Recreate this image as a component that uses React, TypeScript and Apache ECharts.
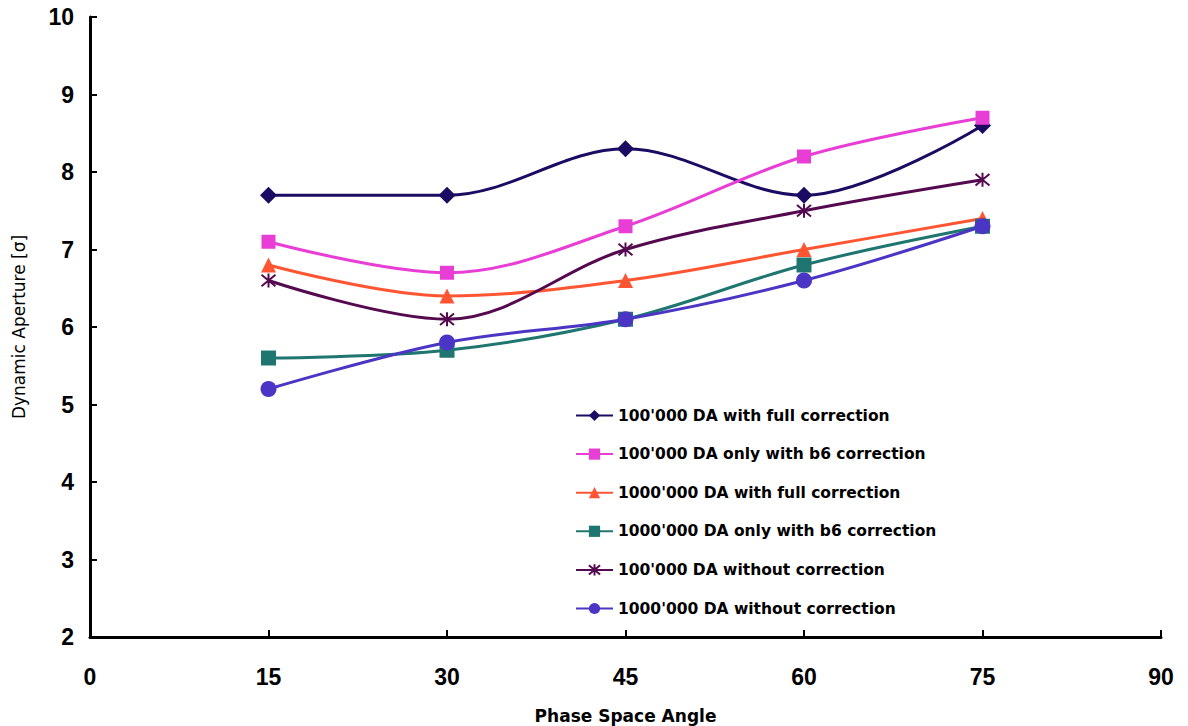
import React, { useEffect, useRef } from "react";
import * as echarts from "echarts";

const angles = [15, 30, 45, 60, 75];
const fullCorr100k = [7.7, 7.7, 8.3, 7.7, 8.6];
const b6Corr100k = [7.1, 6.7, 7.3, 8.2, 8.7];
const fullCorr1M = [6.8, 6.4, 6.6, 7.0, 7.4];
const b6Corr1M = [5.6, 5.7, 6.1, 6.8, 7.3];
const noCorr100k = [6.6, 6.1, 7.0, 7.5, 7.9];
const noCorr1M = [5.2, 5.8, 6.1, 6.6, 7.3];

const seriesDefs = [
  { name: "100'000 DA with full correction", data: fullCorr100k, color: "#1c0b62", symbol: "diamond", size: 17 },
  { name: "100'000 DA only with b6 correction", data: b6Corr100k, color: "#e83ed6", symbol: "rect", size: 14 },
  { name: "1000'000 DA with full correction", data: fullCorr1M, color: "#ff5533", symbol: "triangle", size: 15 },
  { name: "1000'000 DA only with b6 correction", data: b6Corr1M, color: "#1f7670", symbol: "rect", size: 15 },
  { name: "100'000 DA without correction", data: noCorr100k, color: "#550a4f", symbol: "path://M0,0L10,10M10,0L0,10M5,-1L5,11", size: 14, star: true },
  { name: "1000'000 DA without correction", data: noCorr1M, color: "#4a35c5", symbol: "circle", size: 16 },
];

export default function App() {
  const ref = useRef<HTMLDivElement>(null);
  useEffect(() => {
    if (!ref.current) return;
    const chart = echarts.init(ref.current, null, { renderer: "svg" });
    const font = "'Liberation Sans', Arial, sans-serif";
    const wide = "'DejaVu Sans', sans-serif";
    chart.setOption({
      animation: false,
      backgroundColor: "#ffffff",
      textStyle: { fontFamily: font },
      grid: { left: 90, right: 27, top: 17, bottom: 89, outerBoundsMode: "none", containLabel: false },
      xAxis: {
        type: "value",
        min: 0,
        max: 90,
        interval: 15,
        name: "Phase Space Angle",
        nameLocation: "middle",
        nameGap: 70,
        nameTextStyle: { fontSize: 17, fontWeight: "bold", color: "#000", fontFamily: wide },
        axisLine: { show: true, lineStyle: { color: "#000", width: 3 } },
        axisTick: { show: true, inside: true, length: 7, lineStyle: { color: "#000", width: 2 } },
        axisLabel: { fontSize: 23, fontWeight: "bold", color: "#000", margin: 28, fontFamily: font },
        splitLine: { show: false },
      },
      yAxis: {
        type: "value",
        min: 2,
        max: 10,
        interval: 1,
        name: "Dynamic Aperture [σ]",
        nameLocation: "middle",
        nameGap: 63,
        nameRotate: 90,
        nameTextStyle: { fontSize: 17, fontWeight: "normal", color: "#000", fontFamily: wide },
        axisLine: { show: true, lineStyle: { color: "#000", width: 3 } },
        axisTick: { show: true, inside: true, length: 7, lineStyle: { color: "#000", width: 2 } },
        axisLabel: { fontSize: 23, fontWeight: "bold", color: "#000", margin: 16, fontFamily: font },
        splitLine: { show: false },
      },
      legend: {
        orient: "vertical",
        left: 575,
        top: 407.5,
        padding: 0,
        itemWidth: 37,
        itemHeight: 14,
        itemGap: 22.6,
        textStyle: { fontSize: 15.5, fontWeight: "bold", color: "#000", fontFamily: wide },
        data: seriesDefs.map((s) => s.name),
      },
      series: seriesDefs.map((s) => ({
        name: s.name,
        type: "line",
        smooth: 0.35,
        data: angles.map((a, i) => [a, s.data[i]]),
        symbol: s.symbol,
        symbolSize: s.size,
        showAllSymbol: true,
        lineStyle: { color: s.color, width: 3 },
        itemStyle: s.star
          ? { color: s.color, borderColor: s.color, borderWidth: 2 }
          : { color: s.color, borderColor: s.color, borderWidth: 0 },
        emphasis: { disabled: true },
      })),
    });
    return () => chart.dispose();
  }, []);
  return <div ref={ref} style={{ width: 1188, height: 726, position: "absolute", left: 0, top: 0 }} />;
}
